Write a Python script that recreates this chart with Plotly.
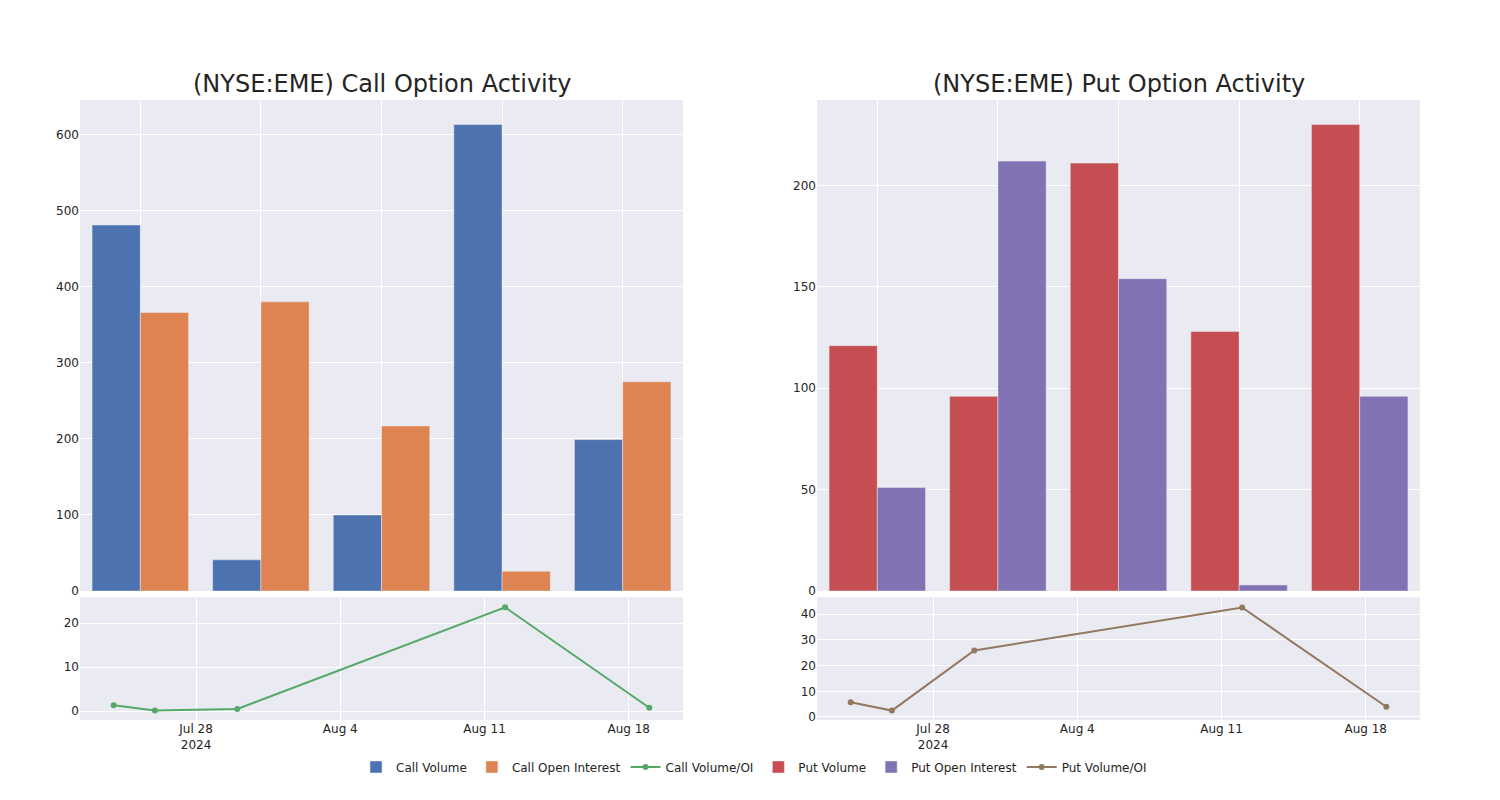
import plotly.graph_objects as go
from plotly.subplots import make_subplots

# Bar categories (dates of the option activity)
categories = ["2024-07-24", "2024-07-26", "2024-07-30", "2024-08-12", "2024-08-19"]

call_volume = [481, 41, 100, 613, 199]
call_open_interest = [366, 380, 217, 26, 275]
put_volume = [121, 96, 211, 128, 230]
put_open_interest = [51, 212, 154, 3, 96]

line_dates = ["2024-07-24", "2024-07-26", "2024-07-30", "2024-08-12", "2024-08-19"]
call_vol_oi = [1.3, 0.1, 0.45, 23.6, 0.75]
put_vol_oi = [5.7, 2.5, 25.9, 42.6, 4.0]

titles = ["(NYSE:EME) Call Option Activity", "(NYSE:EME) Put Option Activity"]

fig = make_subplots(
    rows=2, cols=2,
    row_heights=[0.8, 0.2],
    vertical_spacing=0.01,
    horizontal_spacing=0.1,
    subplot_titles=(titles[0], titles[1], "", ""),
)

fig.add_trace(go.Bar(x=categories, y=call_volume, name="Call Volume"), row=1, col=1)
fig.add_trace(go.Bar(x=categories, y=call_open_interest, name="Call Open Interest"), row=1, col=1)
fig.add_trace(go.Scatter(x=line_dates, y=call_vol_oi, name="Call Volume/OI",
                         mode="lines+markers"), row=2, col=1)
fig.add_trace(go.Bar(x=categories, y=put_volume, name="Put Volume"), row=1, col=2)
fig.add_trace(go.Bar(x=categories, y=put_open_interest, name="Put Open Interest"), row=1, col=2)
fig.add_trace(go.Scatter(x=line_dates, y=put_vol_oi, name="Put Volume/OI",
                         mode="lines+markers"), row=2, col=2)

for c in (1, 2):
    fig.update_xaxes(type="category", showticklabels=False, row=1, col=c)
    fig.update_xaxes(type="date", range=["2024-07-22 08:46", "2024-08-20 15:14"], row=2, col=c)

fig.update_yaxes(range=[-2.05, 25.9], row=2, col=1)
fig.update_yaxes(range=[-1.17, 46.6], row=2, col=2)

for ann in fig.layout.annotations:
    ann.font.size = 24

fig.update_layout(
    template="seaborn",
    font=dict(family="DejaVu Sans"),
    width=1500,
    height=800,
    barmode="group",
    legend=dict(orientation="h", x=0.503, xanchor="center", y=-0.0758, yanchor="middle"),
)

fig.write_html("out.html")
